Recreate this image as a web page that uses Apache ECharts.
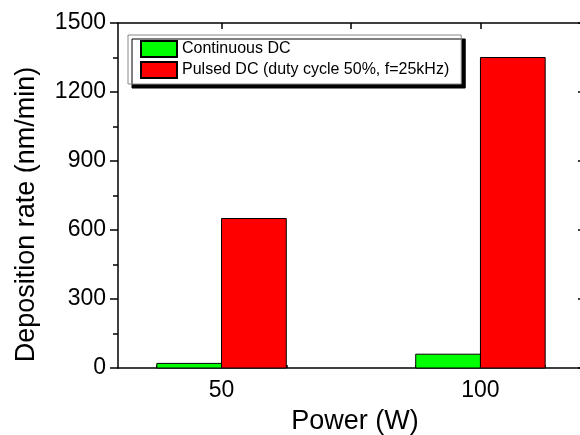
<!DOCTYPE html>
<html>
<head>
<meta charset="utf-8">
<script src="https://cdn.jsdelivr.net/npm/echarts@6/dist/echarts.min.js"></script>
<style>html,body{margin:0;padding:0;background:#fff;}#c{width:580px;height:435px;}</style>
</head>
<body>
<div id="c"></div>
<script>
const powers = [50, 100];
const continuousDC = [20, 60];
const pulsedDC = [650, 1350];
const seriesNames = ['Continuous DC', 'Pulsed DC (duty cycle 50%, f=25kHz)'];
const yTicks = [0, 300, 600, 900, 1200, 1500];
const xLabels = [50, 100];
const topMajor = [50, 75, 100];
const topMinor = [37.5, 62.5, 87.5, 112.5];

const FONT = "'Liberation Sans', Arial, sans-serif";
const HALF = 12.5; // bar width in x units

function makeRender(side) {
  return function (params, api) {
    const x = api.value(0), y = api.value(1);
    const x0 = side < 0 ? x - HALF : x;
    const x1 = side < 0 ? x : x + HALF;
    const p0 = api.coord([x0, y]);
    const p1 = api.coord([x1, 0]);
    return {
      type: 'rect',
      shape: { x: p0[0], y: p0[1], width: p1[0] - p0[0], height: p1[1] - p0[1] },
      style: api.style()
    };
  };
}

const chart = echarts.init(document.getElementById('c'), null, { renderer: 'canvas' });
chart.setOption({
  animation: false,
  backgroundColor: '#fff',
  textStyle: { fontFamily: FONT },
  grid: { left: 118, top: 23, width: 466, height: 345, containLabel: false, outerBoundsMode: 'none' },
  legend: {
    data: seriesNames,
    orient: 'vertical',
    left: 128, top: 35,
    itemWidth: 36, itemHeight: 16, itemGap: 3,
    padding: [5, 12, 5, 12],
    selectedMode: false,
    backgroundColor: '#fff',
    borderColor: '#888', borderWidth: 1,
    shadowColor: '#000', shadowOffsetX: 4, shadowOffsetY: 4, shadowBlur: 0,
    icon: 'rect',
    textStyle: { fontSize: 16, color: '#000', fontFamily: FONT }
  },
  xAxis: [
    {
      type: 'value', position: 'bottom', min: 30, max: 120,
      name: 'Power (W)', nameLocation: 'middle', nameGap: 40,
      nameTextStyle: { fontSize: 27, color: '#000', fontFamily: FONT, padding: [0, 0, 0, 8] },
      axisLine: { show: true, onZero: false, lineStyle: { color: '#000', width: 1.5 } },
      axisTick: { show: false },
      axisLabel: { customValues: xLabels, fontSize: 23, color: '#000', margin: 11, fontFamily: FONT },
      splitLine: { show: false }
    },
    {
      type: 'value', position: 'top', min: 30, max: 120,
      axisLine: { show: true, onZero: false, lineStyle: { color: '#000', width: 1.5 } },
      axisTick: { show: true, inside: true, length: 6, customValues: topMajor, lineStyle: { color: '#000', width: 1.5 } },
      axisLabel: { show: false },
      splitLine: { show: false }
    },
    {
      // requested 'bottom' which is taken, so ECharts places it at the top
      type: 'value', position: 'bottom', min: 30, max: 120,
      axisLine: { show: false },
      axisTick: { show: true, inside: true, length: 3, customValues: topMinor, lineStyle: { color: '#000', width: 1.5 } },
      axisLabel: { show: false },
      splitLine: { show: false }
    }
  ],
  yAxis: [
    {
      type: 'value', position: 'left', min: 0, max: 1500, interval: 300,
      name: 'Deposition rate (nm/min)', nameLocation: 'middle', nameGap: 78,
      nameTextStyle: { fontSize: 27, color: '#000', fontFamily: FONT, padding: [0, 38, 0, 0] },
      axisLine: { show: true, onZero: false, lineStyle: { color: '#000', width: 1.5 } },
      axisTick: { show: true, inside: false, length: 8, lineStyle: { color: '#000', width: 1.5 } },
      minorTick: { show: true, splitNumber: 2, length: 5, lineStyle: { color: '#000', width: 1.5 } },
      axisLabel: { fontSize: 23, color: '#000', margin: 12, fontFamily: FONT,
        customValues: yTicks, formatter: v => String(v) },
      splitLine: { show: false }
    },
    {
      type: 'value', position: 'right', min: 0, max: 1500, interval: 300,
      axisLine: { show: true, onZero: false, lineStyle: { color: '#000', width: 1.5 } },
      axisTick: { show: true, inside: true, length: 6, lineStyle: { color: '#000', width: 1.5 } },
      minorTick: { show: true, splitNumber: 2, length: 3, lineStyle: { color: '#000', width: 1.5 } },
      axisLabel: { show: false },
      splitLine: { show: false }
    }
  ],
  series: [
    {
      name: seriesNames[0], type: 'custom', xAxisIndex: 0, yAxisIndex: 0,
      renderItem: makeRender(-1),
      itemStyle: { color: '#00ff00', borderColor: '#000', borderWidth: 1 },
      encode: { x: 0, y: 1 },
      data: powers.map((p, i) => [p, continuousDC[i]])
    },
    {
      name: seriesNames[1], type: 'custom', xAxisIndex: 0, yAxisIndex: 0,
      renderItem: makeRender(1),
      itemStyle: { color: '#ff0000', borderColor: '#000', borderWidth: 1 },
      encode: { x: 0, y: 1 },
      data: powers.map((p, i) => [p, pulsedDC[i]])
    }
  ]
});
</script>
</body>
</html>
